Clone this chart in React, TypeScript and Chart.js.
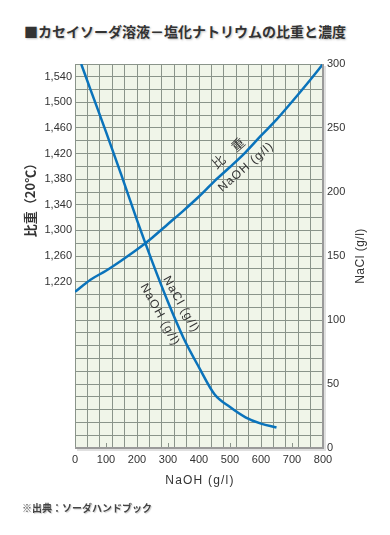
import React, { useEffect, useRef } from "react";
import { Chart, registerables } from "chart.js";

Chart.register(...registerables);

// NaOH concentration (g/l) vs specific gravity (left axis)
const densityNaoh = [0, 50, 100, 150, 200, 250, 300, 350, 400, 450, 500, 550, 600, 650, 700, 750, 800];
const densityValues = [1204, 1223, 1237, 1253, 1270, 1289, 1310, 1331, 1353, 1377, 1399, 1422, 1448, 1473, 1501, 1530, 1560];

// NaOH concentration (g/l) vs NaCl (g/l) (right axis)
const naclNaoh = [20, 50, 100, 150, 200, 250, 300, 350, 400, 450, 500, 550, 600, 650];
const naclValues = [300, 280, 247, 213, 178, 145, 114, 86, 63, 42, 32, 24, 19, 16];

// tick labels
const xTickLabels = [0, 100, 200, 300, 400, 500, 600, 700, 800];
const xInnerTicks = [100, 300, 500, 700];
const densityTickLabels = [1220, 1260, 1300, 1340, 1380, 1420, 1460, 1500, 1540];
const naclTickLabels = [0, 50, 100, 150, 200, 250, 300];

const BLUE = "#0a73bb";
const GRID = "#8a948a";
const BG = "#f0f5e9";
const TXT = "#333333";
const FONT = "'Liberation Sans', Arial, sans-serif";
const JFONT = "'Noto Sans CJK JP', 'Liberation Sans', sans-serif";

const decorPlugin = {
  id: "decor",
  beforeDraw(chart: any) {
    const { ctx, chartArea: a } = chart;
    ctx.save();
    ctx.fillStyle = BG;
    ctx.fillRect(a.left, a.top, a.right - a.left, a.bottom - a.top);
    ctx.restore();
  },
  afterDatasetsDraw(chart: any) {
    const { ctx, chartArea: a, scales } = chart;
    const x = scales.x;
    const yL = scales.yL;
    const yR = scales.yR;
    ctx.save();
    // inner tick marks at odd hundreds
    ctx.strokeStyle = GRID;
    ctx.lineWidth = 1;
    xInnerTicks.forEach((v) => {
      const px = Math.round(x.getPixelForValue(v)) + 0.5;
      ctx.beginPath();
      ctx.moveTo(px, a.bottom);
      ctx.lineTo(px, a.bottom - 5);
      ctx.stroke();
    });
    // right and bottom borders
    ctx.strokeStyle = "rgba(0,0,0,0.12)";
    ctx.lineWidth = 2;
    ctx.beginPath();
    ctx.moveTo(a.right + 2, a.top + 2);
    ctx.lineTo(a.right + 2, a.bottom + 2);
    ctx.lineTo(a.left + 2, a.bottom + 2);
    ctx.stroke();
    ctx.strokeStyle = "#9a9a9a";
    ctx.lineWidth = 2;
    ctx.beginPath();
    ctx.moveTo(a.right, a.top);
    ctx.lineTo(a.right, a.bottom);
    ctx.lineTo(a.left, a.bottom);
    ctx.stroke();

    // labels along curves
    const drawRot = (text: string, px: number, py: number, deg: number, font: string, spacing = "0px") => {
      ctx.save();
      ctx.translate(px, py);
      ctx.rotate((deg * Math.PI) / 180);
      ctx.font = font;
      (ctx as any).letterSpacing = spacing;
      ctx.fillStyle = TXT;
      ctx.textAlign = "center";
      ctx.textBaseline = "middle";
      ctx.fillText(text, 0, 0);
      ctx.restore();
    };
    drawRot("比　重", x.getPixelForValue(494), yL.getPixelForValue(1421), -41, `13px ${JFONT}`);
    drawRot("NaOH (g/l)", x.getPixelForValue(552), yL.getPixelForValue(1399), -41, `12px ${FONT}`, "1.2px");
    drawRot("NaCl (g/l)", x.getPixelForValue(342), yR.getPixelForValue(112), 61, `12px ${FONT}`, "1.2px");
    drawRot("NaOH (g/l)", x.getPixelForValue(274), yR.getPixelForValue(104), 61, `12px ${FONT}`, "1.2px");

    // axis titles
    drawRot("比重（20℃）", a.left - 45, (a.top + a.bottom) / 2 - 59, -90, `bold 13px ${JFONT}`);
    drawRot("NaCl (g/l)", a.right + 38, (a.top + a.bottom) / 2, -90, `12px ${FONT}`, "0.5px");
    drawRot("NaOH (g/l)", (a.left + a.right) / 2 + 1, a.bottom + 33, 0, `12px ${FONT}`, "1.2px");
    ctx.restore();
  },
};

export default function App() {
  const ref = useRef<HTMLCanvasElement | null>(null);
  useEffect(() => {
    if (!ref.current) return;
    const chart = new Chart(ref.current, {
      type: "line",
      data: {
        datasets: [
          {
            label: "比重",
            data: densityNaoh.map((v, i) => ({ x: v, y: densityValues[i] })),
            yAxisID: "yL",
            borderColor: BLUE,
            borderWidth: 2.5,
            pointRadius: 0,
            cubicInterpolationMode: "monotone",
            fill: false,
          },
          {
            label: "NaCl",
            data: naclNaoh.map((v, i) => ({ x: v, y: naclValues[i] })),
            yAxisID: "yR",
            borderColor: BLUE,
            borderWidth: 2.5,
            pointRadius: 0,
            cubicInterpolationMode: "monotone",
            fill: false,
          },
        ],
      },
      options: {
        animation: false,
        responsive: false,
        devicePixelRatio: 1,
        layout: { padding: { top: 64, left: 0, right: 0, bottom: 0 } },
        plugins: { legend: { display: false }, tooltip: { enabled: false }, title: { display: false } },
        events: [],
        scales: {
          x: {
            type: "linear",
            position: "bottom",
            min: 0,
            max: 800,
            afterBuildTicks: (scale: any) => {
              const vals: number[] = [];
              for (let v = 0; v <= 800; v += 40) vals.push(v);
              xInnerTicks.forEach((v) => vals.push(v));
              vals.sort((p, q) => p - q);
              scale.ticks = vals.map((v) => ({ value: v }));
            },
            afterFit: (scale: any) => {
              scale.height = 535 - 448;
            },
            grid: {
              color: (c: any) => (c.tick && c.tick.value % 40 === 0 ? GRID : "rgba(0,0,0,0)"),
              lineWidth: 1,
              drawTicks: false,
            },
            border: { display: false },
            ticks: {
              autoSkip: false,
              maxRotation: 0,
              padding: 5,
              color: TXT,
              font: { family: FONT, size: 11 },
              callback: (v: any) => (xTickLabels.includes(Number(v)) ? String(v) : ""),
            },
          },
          yL: {
            type: "linear",
            position: "left",
            min: 960,
            max: 1560,
            afterFit: (scale: any) => {
              scale.width = 75;
            },
            grid: { display: false, drawTicks: false },
            border: { display: false },
            ticks: {
              stepSize: 20,
              maxTicksLimit: 1000,
              autoSkip: false,
              padding: 3,
              color: TXT,
              font: { family: FONT, size: 11 },
              callback: (v: any) => {
                const n = Number(v);
                return densityTickLabels.includes(n) ? n.toLocaleString("en-US") : "";
              },
            },
          },
          yR: {
            type: "linear",
            position: "right",
            min: 0,
            max: 300,
            afterFit: (scale: any) => {
              scale.width = 390 - 323;
            },
            grid: { color: GRID, lineWidth: 1, drawTicks: false },
            border: { display: false },
            ticks: {
              stepSize: 10,
              maxTicksLimit: 1000,
              autoSkip: false,
              padding: 4,
              color: TXT,
              font: { family: FONT, size: 11 },
              callback: (v: any) => (naclTickLabels.includes(Number(v)) ? String(v) : ""),
            },
          },
        },
      },
      plugins: [decorPlugin],
    } as any);
    return () => chart.destroy();
  }, []);

  return (
    <div style={{ position: "absolute", left: 0, top: 0, width: 390, height: 535, background: "#fff" }}>
      <div
        style={{
          position: "absolute",
          left: 24,
          top: 21,
          font: `bold 14px ${JFONT}`,
          lineHeight: "20px",
          color: "#333",
          whiteSpace: "nowrap",
          textShadow: "1px 1px 2px rgba(0,0,0,0.25)",
        }}
      >
        ■カセイソーダ溶液－塩化ナトリウムの比重と濃度
      </div>
      <canvas ref={ref} width={390} height={535} style={{ position: "absolute", left: 0, top: 0 }} />
      <div
        style={{
          position: "absolute",
          left: 22,
          top: 502,
          font: `bold 10px ${JFONT}`,
          lineHeight: "12px",
          color: "#444",
          whiteSpace: "nowrap",
          textShadow: "1px 1px 1px rgba(0,0,0,0.2)",
        }}
      >
        ※出典：ソーダハンドブック
      </div>
    </div>
  );
}
